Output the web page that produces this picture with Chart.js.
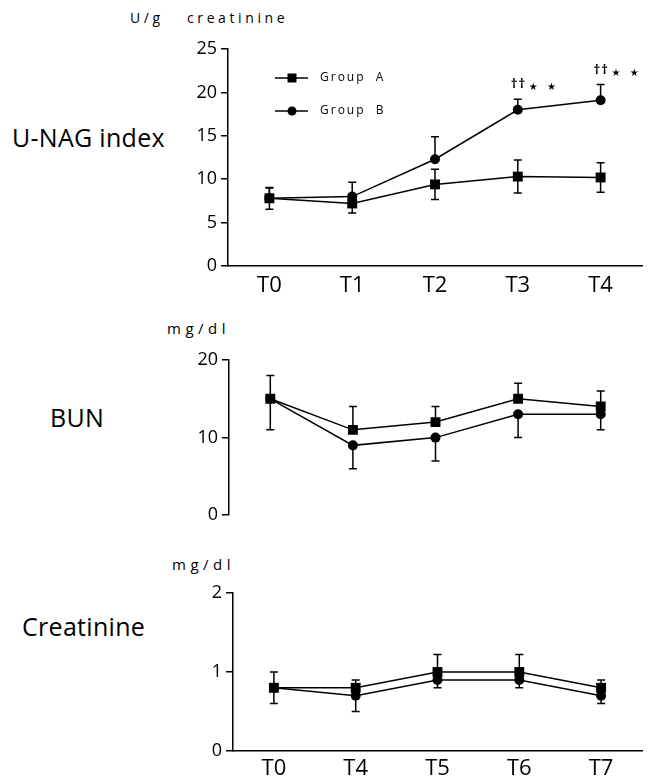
<!DOCTYPE html>
<html>
<head>
<meta charset="utf-8">
<script src="https://cdn.jsdelivr.net/npm/chart.js@4.4.1/dist/chart.umd.min.js"></script>
<style>
  body { margin: 0; background: #fff; font-family: "Open Sans", sans-serif; color: #000; }
  #wrap { position: relative; width: 649px; height: 781px; overflow: hidden; }
  canvas { position: absolute; left: 0; }
  .lbl { position: absolute; white-space: nowrap; color: #000; line-height: 1; }
  .side { font-size: 25px; letter-spacing: 0.3px; }
  .unit { font-size: 14px; letter-spacing: 3.6px; }
  .unit2 { font-size: 15px; letter-spacing: 4.5px; }
</style>
</head>
<body>
<div id="wrap">
  <div class="lbl unit" style="left:130px; top:11px;">U/g</div>
  <div class="lbl unit" style="left:187px; top:11px;">creatinine</div>
  <div class="lbl side" style="left:12px; top:125px;">U-NAG index</div>
  <div class="lbl unit2" style="left:167px; top:321px;">mg/dl</div>
  <div class="lbl side" style="left:50px; top:405px;">BUN</div>
  <div class="lbl unit2" style="left:172px; top:557px;">mg/dl</div>
  <div class="lbl side" style="left:22px; top:614px;">Creatinine</div>

  <canvas id="nagChart" width="649" height="300" style="top:0px;"></canvas>
  <canvas id="bunChart" width="649" height="230" style="top:300px;"></canvas>
  <canvas id="creChart" width="649" height="251" style="top:530px;"></canvas>
</div>

<script>
// U-NAG index (U/g creatinine)
var nagLabels = ['T0', 'T1', 'T2', 'T3', 'T4'];
var nagGroupA = [7.8, 7.2, 9.4, 10.3, 10.2];
var nagGroupB = [7.8, 8.0, 12.3, 18.0, 19.1];
var nagErrA = [1.25, 1.1, 1.75, 1.9, 1.7];
var nagErrB = [1.2, 1.65, 2.6, 1.2, 1.8];
var nagDaggers = ['', '', '', '††', '††'];
var nagStars = ['', '', '', '★ ★', '★ ★'];

// BUN (mg/dl)
var bunLabels = ['T0', 'T4', 'T5', 'T6', 'T7'];
var bunGroupA = [15, 11, 12, 15, 14];
var bunGroupB = [15, 9, 10, 13, 13];
var bunErrA = [3, 3, 2, 2, 2];
var bunErrB = [4, 3, 3, 3, 2];

// Creatinine (mg/dl)
var creLabels = ['T0', 'T4', 'T5', 'T6', 'T7'];
var creGroupA = [0.8, 0.8, 1.0, 1.0, 0.8];
var creGroupB = [0.8, 0.7, 0.9, 0.9, 0.7];
var creErrA = [0.2, 0.1, 0.22, 0.22, 0.1];
var creErrB = [0.2, 0.2, 0.1, 0.1, 0.1];

var FONT = '"Open Sans", sans-serif';

// draws the SD whiskers under the markers
var errorBarPlugin = {
    id: 'errorBars',
    beforeDatasetsDraw: function (chart) {
        var ctx = chart.ctx;
        var yScale = chart.scales.y;
        ctx.save();
        ctx.strokeStyle = '#000';
        ctx.lineWidth = 1.5;
        chart.data.datasets.forEach(function (ds, i) {
            var meta = chart.getDatasetMeta(i);
            meta.data.forEach(function (pt, j) {
                var v = ds.data[j];
                var e = ds.err[j];
                if (e == null) return;
                var x = pt.x;
                var ends = [];
                if (ds.errDir === 'up' || ds.errDir === 'both') ends.push(yScale.getPixelForValue(v + e));
                if (ds.errDir === 'down' || ds.errDir === 'both') ends.push(yScale.getPixelForValue(v - e));
                ends.forEach(function (yEnd) {
                    ctx.beginPath();
                    ctx.moveTo(x, pt.y);
                    ctx.lineTo(x, yEnd);
                    ctx.moveTo(x - 4, yEnd);
                    ctx.lineTo(x + 4, yEnd);
                    ctx.stroke();
                });
            });
        });
        ctx.restore();
    }
};

// legend with line + marker, inside the top chart
var legendPlugin = {
    id: 'lineLegend',
    afterDraw: function (chart) {
        if (!chart.options.plugins.lineLegend || !chart.options.plugins.lineLegend.show) return;
        var ctx = chart.ctx;
        var left = chart.chartArea.left + 47;
        var rows = [chart.chartArea.top + 29, chart.chartArea.top + 62];
        ctx.save();
        chart.data.datasets.forEach(function (ds, i) {
            var y = rows[i];
            ctx.strokeStyle = '#000';
            ctx.lineWidth = 1.5;
            ctx.beginPath();
            ctx.moveTo(left, y);
            ctx.lineTo(left + 33, y);
            ctx.stroke();
            ctx.fillStyle = '#000';
            ctx.beginPath();
            if (ds.pointStyle === 'rect') {
                ctx.rect(left + 12.5, y - 4.5, 9, 9);
            } else {
                ctx.arc(left + 17, y, 4.5, 0, Math.PI * 2);
            }
            ctx.fill();
            ctx.font = '12px ' + FONT;
            ctx.letterSpacing = '2px';
            ctx.textBaseline = 'middle';
            ctx.textAlign = 'left';
            ctx.fillText(ds.label.replace(' ', '  '), left + 45, y);
        });
        ctx.restore();
    }
};

// significance marks above group B
var sigPlugin = {
    id: 'sigMarks',
    afterDatasetsDraw: function (chart) {
        if (!chart.options.plugins.sigMarks || !chart.options.plugins.sigMarks.show) return;
        var ctx = chart.ctx;
        var ds = chart.data.datasets[1];
        var meta = chart.getDatasetMeta(1);
        var yScale = chart.scales.y;
        ctx.save();
        ctx.fillStyle = '#000';
        ctx.textAlign = 'left';
        ctx.textBaseline = 'alphabetic';
        meta.data.forEach(function (pt, j) {
            if (!nagDaggers[j]) return;
            var top = yScale.getPixelForValue(ds.data[j] + ds.err[j]);
            ctx.font = 'bold 13px ' + FONT;
            ctx.letterSpacing = '1px';
            ctx.fillText(nagDaggers[j], pt.x - 7, top - 11);
            ctx.font = '10px "DejaVu Sans", sans-serif';
            ctx.letterSpacing = '3px';
            ctx.fillText(nagStars[j], pt.x + 11, top - 9);
        });
        ctx.restore();
    }
};

function makeDatasets(a, b, errA, errB, dirA, dirB) {
    return [{
        label: 'Group A',
        data: a,
        err: errA,
        errDir: dirA,
        borderColor: '#000',
        backgroundColor: '#000',
        borderWidth: 1.5,
        pointStyle: 'rect',
        pointRadius: 7,
        pointBorderWidth: 0,
        tension: 0
    }, {
        label: 'Group B',
        data: b,
        err: errB,
        errDir: dirB,
        borderColor: '#000',
        backgroundColor: '#000',
        borderWidth: 1.5,
        pointStyle: 'circle',
        pointRadius: 5,
        pointBorderWidth: 0,
        tension: 0
    }];
}

function makeChart(id, labels, datasets, opts) {
    var ctx = document.getElementById(id).getContext('2d');
    return new Chart(ctx, {
        type: 'line',
        data: { labels: labels, datasets: datasets },
        plugins: [errorBarPlugin, legendPlugin, sigPlugin],
        options: {
            responsive: false,
            animation: false,
            events: [],
            layout: { padding: opts.padding },
            plugins: {
                legend: { display: false },
                tooltip: { enabled: false },
                lineLegend: { show: !!opts.legend },
                sigMarks: { show: !!opts.sig }
            },
            scales: {
                x: {
                    type: 'category',
                    offset: true,
                    display: opts.showX,
                    grid: { display: false, drawTicks: false },
                    border: { display: true, color: '#000', width: 1.5 },
                    ticks: { color: '#000', font: { family: FONT, size: 22 }, padding: opts.xPad },
                    afterFit: function (s) { s.height = opts.xHeight; }
                },
                y: {
                    min: 0,
                    max: opts.max,
                    grid: { display: true, drawOnChartArea: false, drawTicks: true, tickLength: 7, color: '#000', lineWidth: 1.5 },
                    border: { display: true, color: '#000', width: 1.5 },
                    ticks: { stepSize: opts.step, color: '#000', font: { family: FONT, size: 18 }, padding: 4 },
                    afterFit: function (s) { s.width = opts.yWidth; }
                }
            }
        }
    });
}

makeChart('nagChart', nagLabels,
    makeDatasets(nagGroupA, nagGroupB, nagErrA, nagErrB, 'both', 'up'),
    { padding: { top: 49, right: 6, left: 0, bottom: 0 }, max: 25, step: 5, yWidth: 228,
      showX: true, xHeight: 34, xPad: 7, legend: true, sig: true });

makeChart('bunChart', bunLabels,
    makeDatasets(bunGroupA, bunGroupB, bunErrA, bunErrB, 'up', 'down'),
    { padding: { top: 60, right: 1, left: 0, bottom: 14 }, max: 20, step: 10, yWidth: 229,
      showX: false, xHeight: 0, xPad: 8 });

makeChart('creChart', creLabels,
    makeDatasets(creGroupA, creGroupB, creErrA, creErrB, 'up', 'down'),
    { padding: { top: 63, right: 0, left: 0, bottom: 0 }, max: 2, step: 1, yWidth: 233,
      showX: true, xHeight: 30, xPad: 5 });
</script>
</body>
</html>
